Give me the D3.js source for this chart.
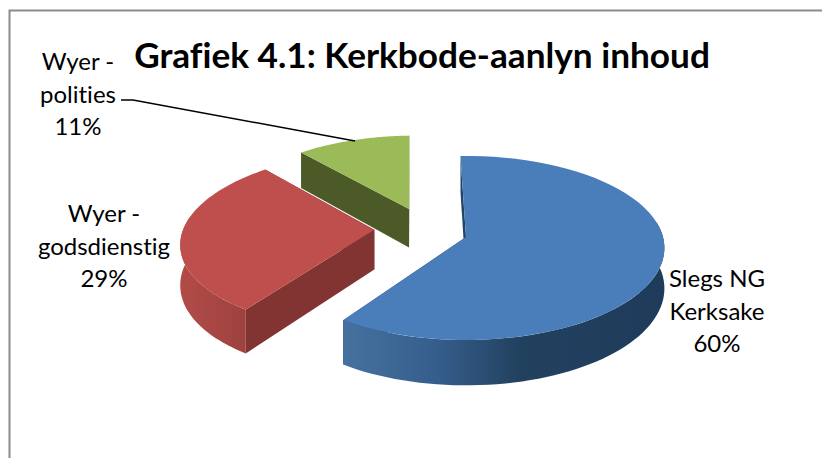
<!DOCTYPE html>
<html>
<head>
<meta charset="utf-8">
<script src="https://cdn.jsdelivr.net/npm/d3@7"></script>
<style>
  html, body { margin: 0; padding: 0; background: #fff; }
  svg { display: block; }
  text { font-family: Lato, "Open Sans", sans-serif; fill: #000; font-variant-ligatures: none; }
</style>
</head>
<body>
<div id="chart"></div>
<script>
var categories = ["Slegs NG Kerksake", "Wyer - godsdienstig", "Wyer - polities"];
var values = [60, 29, 11];
var labelLines = [["Slegs NG", "Kerksake", "60%"], ["Wyer -", "godsdienstig", "29%"], ["Wyer -", "polities", "11%"]];
var title = "Grafiek 4.1: Kerkbode-aanlyn inhoud";

var width = 822, height = 458;
var topColors = ["#4a7ebb", "#be4f4c", "#9bbb59"];
var cutColors = ["#24446c", "#823432", "#4b5a26"];

// how far each slice is pulled out of the pie, in radius units (plane x, plane z)
var pullX = [0, -0.47, -0.30];
var pullZ = [0, 0.08, 0.32];
var sliceRadius = [1, 0.98, 0.97];

var apexX = 466, apexY = 237, radiusX = 197, radiusY = 90.7, persp = 0.119, depth = 40;

var svg = d3.select("#chart").append("svg")
    .attr("width", width)
    .attr("height", height);

var defs = svg.append("defs");

function wallGradient(id, stops) {
    var g = defs.append("linearGradient").attr("id", id);
    stops.forEach(function(s) {
        g.append("stop").attr("offset", s[0]).attr("stop-color", s[1]);
    });
}
wallGradient("wall0", [[0, "#46719f"], [0.3, "#355d8b"], [0.55, "#22415f"], [1, "#1f3b5b"]]);
wallGradient("wall1", [[0, "#b24b48"], [1, "#9d423f"]]);

// chart frame, the right side is cut off in the original
svg.append("path")
    .attr("d", "M9.5,458V10.5H822")
    .attr("fill", "none")
    .attr("stroke", "#8c8c8c")
    .attr("stroke-width", 2);

var xScale = d3.scaleLinear().domain([0, 1]).range([apexX, apexX + radiusX]);
var yScale = d3.scaleLinear().domain([0, 1]).range([apexY, apexY - radiusY]);

// plane point -> screen point, z=1 is the far side of the pie
function project(px, pz, drop) {
    var s = 1 / (1 + persp * pz);
    return [xScale(px * s), yScale(pz * s) + drop * s];
}

var pie = d3.pie().sort(null)
    .startAngle(-1.8 * Math.PI / 180)
    .endAngle(358.2 * Math.PI / 180);
var arcs = pie(values);

var pathLine = d3.line().curve(d3.curveLinearClosed);

function rimPoint(i, a, drop) {
    return project(pullX[i] + sliceRadius[i] * Math.sin(a), pullZ[i] + sliceRadius[i] * Math.cos(a), drop);
}

function rimPoints(i, a0, a1, drop) {
    var steps = 60, pts = [];
    for (var k = 0; k <= steps; k++) {
        pts.push(rimPoint(i, a0 + (a1 - a0) * k / steps, drop));
    }
    return pts;
}

function cutFace(i, a) {
    return [
        project(pullX[i], pullZ[i], 0),
        rimPoint(i, a, 0),
        rimPoint(i, a, depth),
        project(pullX[i], pullZ[i], depth)
    ];
}

// back to front: green, red, blue
[2, 1, 0].forEach(function(i) {
    var d = arcs[i], g = svg.append("g");

    g.append("path").attr("d", pathLine(cutFace(i, d.startAngle))).attr("fill", cutColors[i]);
    g.append("path").attr("d", pathLine(cutFace(i, d.endAngle))).attr("fill", cutColors[i]);

    // outer wall, only the part that faces the viewer (a bit wider, the top covers the rest)
    var from = Math.max(d.startAngle, Math.PI * 0.45), to = Math.min(d.endAngle, Math.PI * 1.55);
    if (to > from) {
        var wall = rimPoints(i, from, to, 0).concat(rimPoints(i, to, from, depth));
        g.append("path").attr("d", pathLine(wall))
            .attr("fill", "url(#wall" + i + ")");
    }

    var topFace = [project(pullX[i], pullZ[i], 0)].concat(rimPoints(i, d.startAngle, d.endAngle, 0));
    g.append("path").attr("d", pathLine(topFace)).attr("fill", topColors[i]);
});

// title
svg.append("text")
    .attr("x", 422)
    .attr("y", 68)
    .attr("text-anchor", "middle")
    .style("font-size", "35.2px")
    .style("font-weight", "700")
    .text(title);

// data labels
var labelX = [717, 104, 78];
var labelY = [287, 222, 70];
labelLines.forEach(function(lines, i) {
    svg.append("text")
        .attr("text-anchor", "middle")
        .style("font-size", "24px")
        .selectAll("tspan")
        .data(lines)
        .enter()
        .append("tspan")
        .attr("x", labelX[i])
        .attr("y", function(d, j) { return labelY[i] + j * 32.5; })
        .text(function(d) { return d; });
});

// leader line for the polities label
svg.append("path")
    .attr("d", d3.line()([[121, 100], [133, 100], [355, 141]]))
    .attr("fill", "none")
    .attr("stroke", "#000")
    .attr("stroke-width", 1.5);
</script>
</body>
</html>
